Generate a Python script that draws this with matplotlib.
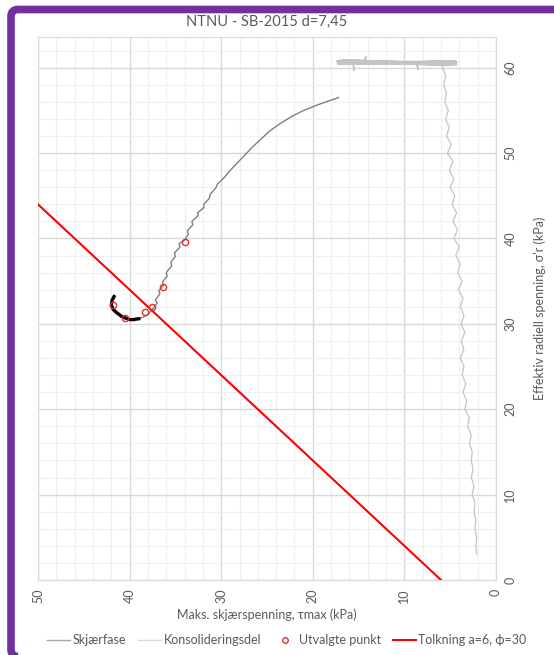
import matplotlib
matplotlib.use("Agg")
import matplotlib.pyplot as plt
from matplotlib.lines import Line2D
from matplotlib.patches import FancyBboxPatch
from matplotlib.transforms import IdentityTransform

plt.rcParams["font.family"] = ["Lato", "DejaVu Sans"]

# Skjærfase (shear phase): tau_max vs sigma'_r, kPa
shear_tau = [41.7, 41.9, 42.0, 41.8, 41.4, 40.9, 40.5, 40.0, 39.6, 39.0, 38.5,
             38.0, 37.6, 37.0, 37.2, 36.7, 36.8, 36.3, 36.4, 35.9, 36.0, 35.4,
             35.5, 35.0, 35.1, 34.5, 34.6, 34.0, 33.6, 33.7, 33.1, 33.2, 32.5,
             32.6, 31.9, 31.9, 31.3, 31.2, 30.6, 30.4, 29.7, 29.0, 28.2, 27.4,
             26.5, 25.6, 24.7, 23.5, 22.3, 21.0, 19.6, 18.3, 17.2]
shear_sig = [33.2, 32.8, 32.2, 31.7, 31.3, 30.9, 30.7, 30.5, 30.5, 30.6, 30.8,
             31.1, 31.6, 32.4, 32.8, 33.5, 33.9, 34.5, 34.9, 35.6, 36.0, 36.8,
             37.2, 37.9, 38.3, 39.0, 39.4, 39.8, 40.5, 40.9, 41.6, 42.0, 42.7,
             43.0, 43.6, 44.0, 44.7, 45.2, 45.9, 46.4, 47.1, 48.0, 48.9, 49.8,
             50.8, 51.7, 52.6, 53.5, 54.3, 55.0, 55.6, 56.1, 56.5]

# Konsolideringsdel (consolidation part): vertical part
cons_tau = [2.1, 2.2, 2.1, 2.3, 2.2, 2.4, 2.3, 2.6, 2.4, 2.7, 2.5, 2.7, 2.6,
            2.9, 2.7, 3.1, 2.9, 3.4, 3.2, 3.6, 3.3, 3.7, 3.5, 3.9, 3.5, 3.8,
            3.4, 3.8, 3.5, 3.9, 3.6, 4.1, 3.7, 4.2, 3.9, 4.4, 4.0, 4.6, 4.2,
            4.7, 4.3, 4.8, 4.5, 5.0, 4.6, 5.1, 4.7, 5.3, 4.9, 5.4, 5.1, 5.5,
            5.2, 5.6, 5.4, 5.7, 5.5, 5.8, 5.8, 4.3, 4.3]
cons_sig = [3.0, 4.0, 5.0, 6.0, 7.0, 8.0, 9.0, 10.0, 11.0, 12.0, 13.0, 14.0,
            15.0, 16.0, 17.0, 18.0, 19.0, 20.0, 21.0, 22.0, 23.0, 24.0, 25.0,
            26.0, 27.0, 28.0, 29.0, 30.0, 31.0, 32.0, 33.0, 34.0, 35.0, 36.0,
            37.0, 38.0, 39.0, 40.0, 41.0, 42.0, 43.0, 44.0, 45.0, 46.0, 47.0,
            48.0, 49.0, 50.0, 51.0, 52.0, 53.0, 54.0, 55.0, 56.0, 57.0, 58.0,
            59.0, 60.0, 60.3, 60.3, 60.7]
# consolidation part: the back-and-forth smear near 60.5 kPa
band_tau = [4.3, 17.3, 4.6, 16.9, 4.4, 17.1, 5.0, 16.5, 4.5, 17.4, 4.8, 15.6,
            15.5, 15.6, 16.8, 4.4, 17.0, 5.2, 16.2, 4.6, 14.3, 14.2, 14.4, 17.2,
            4.7, 8.6, 8.5, 8.7, 16.6, 4.5, 17.3, 4.9]
band_sig = [60.7, 60.5, 60.8, 60.4, 60.6, 60.9, 60.3, 60.7, 60.5, 60.8, 60.4,
            60.6, 59.7, 60.6, 60.4, 60.8, 60.6, 60.3, 60.9, 60.5, 60.8, 61.3,
            60.8, 60.4, 60.7, 60.5, 59.8, 60.5, 60.9, 60.4, 60.7, 60.5]

# Utvalgte punkt (selected points)
sel_tau = [41.8, 40.5, 38.3, 37.6, 36.4, 34.0]
sel_sig = [32.2, 30.7, 31.4, 32.0, 34.3, 39.6]

# Tolkning a=6, phi=30 (interpretation line)
fit_tau = [50.0, 6.0]
fit_sig = [44.0, 0.0]

txt = "#595959"

fig = plt.figure(figsize=(5.54, 6.55), dpi=100)
ax = fig.add_axes([0.0686, 0.1145, 0.8267, 0.829])

ax.plot(cons_tau, cons_sig, color="#c4c4c4", lw=0.9, zorder=2)
ax.plot(band_tau, band_sig, color="#c4c4c4", lw=1.1, zorder=2)
ax.plot(shear_tau, shear_sig, color="#808080", lw=1.0, zorder=3)
ax.plot(shear_tau[:10], shear_sig[:10], color="black", lw=2.4, zorder=4)
ax.plot(fit_tau, fit_sig, color="#ff0000", lw=1.5, zorder=5)
ax.plot(sel_tau, sel_sig, "o", ms=4.5, mfc="none", mec="#e03030", mew=1.0, zorder=6)

ax.set_xlim(50, 0)
ax.set_ylim(0, 63.6)
ax.set_xticks(range(0, 51, 10))
ax.set_yticks(range(0, 61, 10))
ax.set_xticks(range(0, 51, 2), minor=True)
ax.set_yticks(range(0, 64, 2), minor=True)
ax.grid(which="major", color="#d9d9d9", lw=1.0)
ax.grid(which="minor", color="#efefef", lw=0.8)
ax.set_axisbelow(True)

ax.yaxis.tick_right()
ax.yaxis.set_label_position("right")
ax.tick_params(which="both", length=0, colors=txt, labelsize=9)
ax.tick_params(axis="x", labelrotation=90, pad=6)
ax.tick_params(axis="y", labelrotation=90, pad=6)
for lab in ax.get_yticklabels():
    lab.set_va("center")

for s in ax.spines.values():
    s.set_color("#d9d9d9")

ax.set_title("NTNU - SB-2015 d=7,45", color=txt, fontsize=10.5, pad=8)
ax.set_xlabel("Maks. skjærspenning, τmax (kPa)", color=txt, fontsize=9, labelpad=4)
ax.set_ylabel("Effektiv radiell spenning, σ'r (kPa)", color=txt, fontsize=9,
              rotation=90, labelpad=12)

handles = [
    Line2D([], [], color="#a6a6a6", lw=1.0),
    Line2D([], [], color="#d9d9d9", lw=1.0),
    Line2D([], [], ls="none", marker="o", ms=4, mfc="none", mec="#e03030"),
    Line2D([], [], color="#ff0000", lw=1.5),
]
labels = ["Skjærfase", "Konsolideringsdel", "Utvalgte punkt", "Tolkning a=6, ϕ=30"]
fig.legend(handles, labels, loc="center", bbox_to_anchor=(0.518, 1 - 640 / 655),
           ncol=4, frameon=False, fontsize=9, labelcolor=txt,
           handlelength=1.8, handletextpad=0.2, columnspacing=1.0)

# purple frame (cut off on the right side of the screenshot)
frame = FancyBboxPatch((11, -1.5), 600, 645.5 + 1.5,
                       boxstyle="round,pad=0,rounding_size=7",
                       transform=IdentityTransform(), fill=False,
                       edgecolor="#7030a0", lw=5.5)
fig.patches.append(frame)

fig.savefig("out.png", dpi=100)
